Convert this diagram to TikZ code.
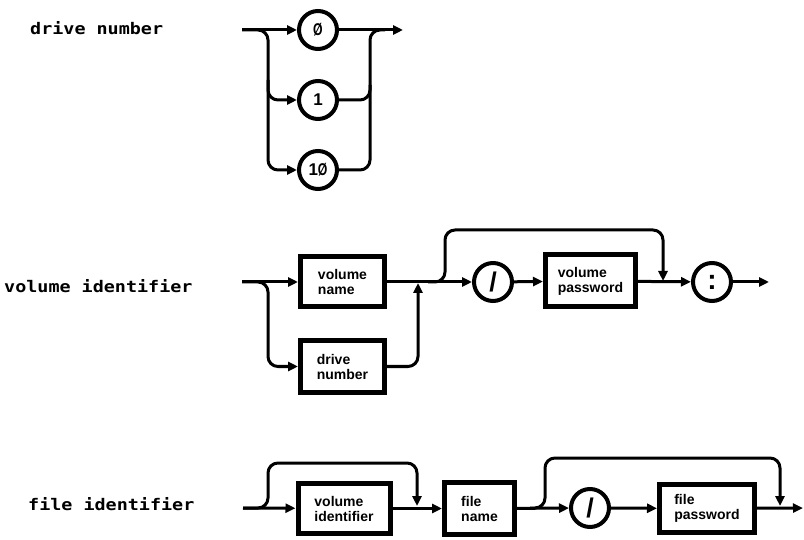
\documentclass[tikz,border=0pt]{standalone}
\usepackage{graphicx}
\usepackage{fontspec}
\setmainfont{Liberation Sans}
\newfontfamily\lblfont[FakeStretch=1.15]{DejaVu Sans Mono}
\usetikzlibrary{arrows.meta}
\newcommand\szero{\scalebox{0.72}[1]{Ø}}
\begin{document}
\begin{tikzpicture}[x=1pt,y=-1pt,
  conn/.style={line width=3pt},
  arr/.style={conn,-{Triangle[length=10pt,width=9pt]}},
  rc/.style={rounded corners=10pt},
  term/.style={circle,draw,line width=4pt,minimum size=38pt,inner sep=0pt,font=\bfseries\fontsize{17}{17}\selectfont},
  nterm/.style={rectangle,draw,line width=5pt,inner sep=0pt,align=left,font=\bfseries\fontsize{14}{15}\selectfont},
  lbl/.style={anchor=base west,inner sep=0pt,font=\lblfont\bfseries\fontsize{16}{16}\selectfont},
  bigsym/.style={font=\bfseries\fontsize{27}{27}\selectfont}]
\fill[white] (0,0) rectangle (804,540);
\useasboundingbox (0,0) rectangle (804,540);

% ---------------- drive number ----------------
\node[lbl] (lbl1) at (30,35) {drive number};
\node[term] (c0) at (318,30) {\szero};
\node[term] (c1) at (318,100) {1};
\node[term] (c10) at (318,170) {1\szero};
\coordinate (dnIn) at (242,30);
\coordinate (dnOut) at (403,30);
\coordinate (dnL) at (268,30);
\coordinate (dnR) at (370,30);
\draw[arr] (dnIn) -- (c0);
\draw[arr] (c0) -- (dnOut);
\draw[arr,rc] (dnIn) -- (dnL) -- (dnL |- c10) -- (c10);
\draw[arr,rc] (268,80) -- (dnL |- c1) -- (c1);
\draw[conn,rc] (c10) -- (dnR |- c10) -- (dnR) -- (385,30);
\draw[conn,rc] (c1) -- (dnR |- c1) -- (370,85);

% ---------------- volume identifier ----------------
\node[lbl] (lbl2) at (4,293) {volume identifier};
\node[nterm,minimum width=84pt,minimum height=50pt] (vn) at (342.5,282) {volume\\name};
\node[nterm,minimum width=84pt,minimum height=52pt] (vdn) at (342.5,366.5) {drive\\number};
\node[term,bigsym] (vs) at (493,282) {/};
\node[nterm,minimum width=90pt,minimum height=52pt] (vp) at (590.5,281) {volume\\password};
\node[term,font=\bfseries\fontsize{28}{28}\selectfont] (vc) at (712,282) {:};
\coordinate (viIn) at (242,282);
\coordinate (viOut) at (769,282);
\coordinate (viL) at (268,282);
\coordinate (viJ) at (418,283);
\draw[arr] (viIn) -- (vn);
\draw[arr,rc] (viIn) -- (viL) -- (viL |- vdn) -- (vdn);
\draw[arr,rc] (vdn) -- (viJ |- vdn) -- (viJ);
\draw[arr] (vn) -- (vs);
\draw[arr] (vs) -- (vp);
\draw[arr,rc] (428,282) -- (445,282) -- (445,230) -- (663,230) -- (663,281);
\draw[arr] (vp) -- (vc);
\draw[arr] (vc) -- (viOut);

% ---------------- file identifier ----------------
\node[lbl] (lbl3) at (28,510) {file identifier};
\node[nterm,minimum width=92pt,minimum height=50pt] (vid) at (344,508.5) {volume\\identifier};
\node[nterm,minimum width=70pt,minimum height=52pt] (fn) at (479.5,508.5) {file\\name};
\node[term,bigsym] (fs) at (590,508) {/};
\node[nterm,minimum width=95pt,minimum height=48pt] (fp) at (707,508.5) {file\\password};
\coordinate (fiIn) at (243,508);
\coordinate (fiOut) at (803,508);
\draw[arr] (fiIn) -- (vid);
\draw[arr,rc] (fiIn) -- (268,508) -- (268,463) -- (417,463) -- (417,506);
\draw[arr] (vid) -- (fn);
\draw[arr] (fn) -- (fs);
\draw[arr,rc] (530,508) -- (545,508) -- (545,458) -- (780,458) -- (780,506);
\draw[arr] (fs) -- (fp);
\draw[arr] (fp) -- (fiOut);
\end{tikzpicture}
\end{document}
